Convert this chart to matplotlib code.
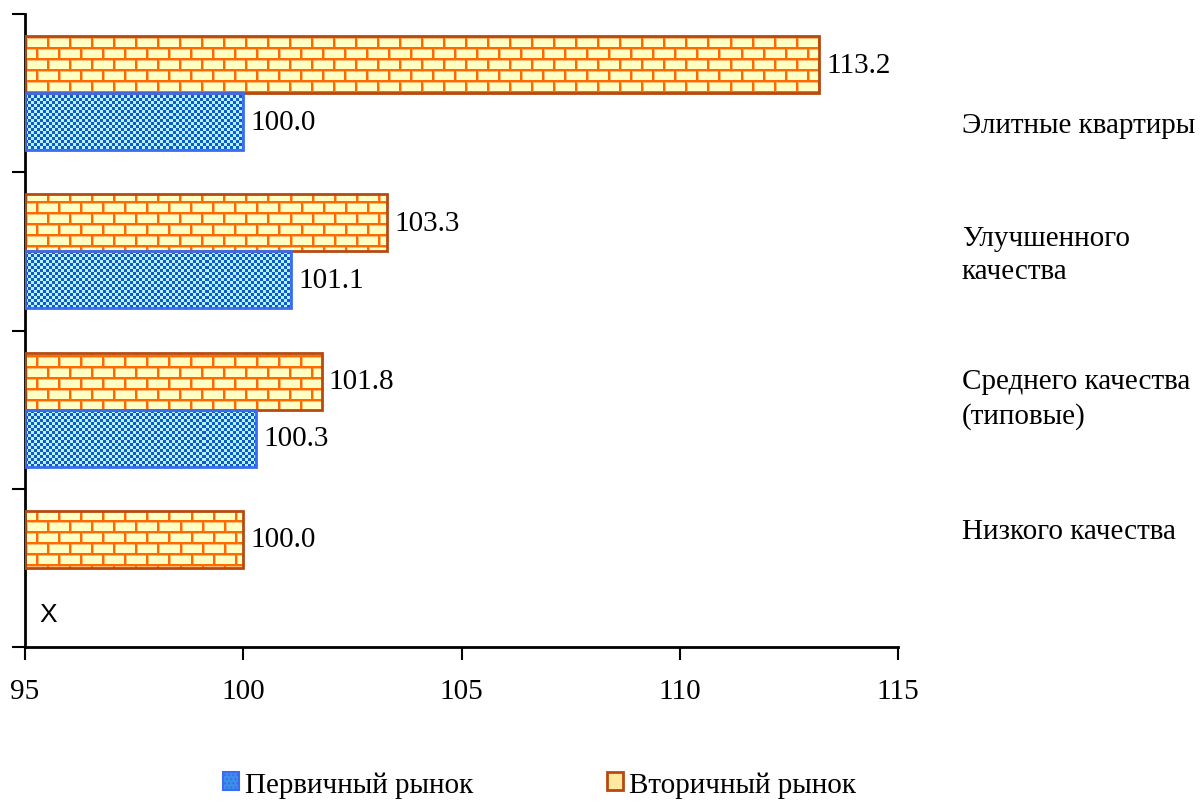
import numpy as np
import matplotlib
matplotlib.use('Agg')
import matplotlib.pyplot as plt
from matplotlib.patches import Patch

# data (bottom to top)
categories = ['Низкого качества', 'Среднего качества\n(типовые)',
              'Улучшенного\nкачества', 'Элитные квартиры']
primary = [np.nan, 100.3, 101.1, 100.0]      # Первичный рынок
secondary = [100.0, 101.8, 103.3, 113.2]     # Вторичный рынок
label_y = [0.23, 1.07, 1.98, 2.80]           # where the category captions sit
x_ticks = [95, 100, 105, 110, 115]

base = 95
W, H = 1202, 803
plt.rcParams['font.family'] = ['Liberation Serif', 'DejaVu Serif']
FS = 21

fig = plt.figure(figsize=(W / 100, H / 100), dpi=100)
ax_l, ax_b, ax_w, ax_h = 25, 155, 873, 633
ax = fig.add_axes([ax_l / W, ax_b / H, ax_w / W, ax_h / H])


# textures, one pixel of array per pixel of axes
def brick_texture(h, w):
    img = np.zeros((h, w, 3))
    img[:] = matplotlib.colors.to_rgb('#FFFFC4')
    mortar = matplotlib.colors.to_rgb('#FF6A00')
    light = matplotlib.colors.to_rgb('#FFB870')
    cols = np.arange(w)
    row_h, brick_w = 11, 22
    for r in range(h):
        k = r // row_h
        rr = r % row_h
        if rr in (0, 1):
            img[r, :] = mortar
            continue
        shift = 0 if k % 2 == 0 else brick_w // 2
        cc = (cols + shift) % brick_w
        if rr == 2:
            img[r, :] = light
        img[r, (cc == 0) | (cc == 1)] = mortar
        img[r, cc == 2] = light
    return img


def check_texture(h, w):
    img = np.zeros((h, w, 3))
    yy, xx = np.mgrid[0:h, 0:w]
    on = ((yy // 3) + (xx // 3)) % 2 == 0
    img[on] = matplotlib.colors.to_rgb('#0A5CC8')
    img[~on] = matplotlib.colors.to_rgb('#B8F0FF')
    return img


bricks = brick_texture(ax_h, ax_w)
checks = check_texture(ax_h, ax_w)

y = np.arange(len(categories))
off, bh = 0.18, 0.36
ylim = (-0.5, len(categories) - 0.5)
xlim = (x_ticks[0], x_ticks[-1])

sec_bars = ax.barh(y + off, np.array(secondary) - base, left=base, height=bh,
                   facecolor='none', edgecolor='#B84A10', linewidth=2, zorder=3)
prim_vals = np.array(primary)
prim_bars = ax.barh(y - off, np.nan_to_num(prim_vals - base, nan=0), left=base, height=bh,
                    facecolor='none', edgecolor='#3A6BF0', linewidth=2, zorder=3)

for bars, tex, vals in [(sec_bars, bricks, secondary), (prim_bars, checks, primary)]:
    for bar, v in zip(bars, vals):
        if np.isnan(v):
            bar.set_visible(False)
            continue
        im = ax.imshow(tex, extent=(xlim[0], xlim[1], ylim[0], ylim[1]),
                       aspect='auto', interpolation='nearest', zorder=2)
        im.set_clip_path(bar)
        ax.annotate('%.1f' % v, (v, bar.get_y() + bar.get_height() / 2),
                    xytext=(5, 0), textcoords='offset points', ha='left',
                    va='center', fontsize=FS)

# missing value marker
ax.text(base + 0.53, -0.29, 'X', family=['Liberation Sans'], fontsize=19,
        ha='center', va='center')

for lab, ly in zip(categories, label_y):
    ax.text(1.073, ly, lab, transform=ax.get_yaxis_transform(), fontsize=FS,
            ha='left', va='center', linespacing=1.38, clip_on=False)

ax.set_xlim(*xlim)
ax.set_ylim(*ylim)
ax.set_xticks(x_ticks)
ax.set_yticks(np.arange(-0.5, len(categories), 1.0))
ax.set_yticklabels([])
ax.tick_params(axis='x', direction='out', length=9, width=1.5, labelsize=FS, pad=13)
ax.tick_params(axis='y', direction='out', length=9.5, width=1.5)
for s in ['top', 'right']:
    ax.spines[s].set_visible(False)
for s in ['left', 'bottom']:
    ax.spines[s].set_linewidth(2)

handles = [Patch(facecolor='#3D8FE8', edgecolor='#3A6BF0', hatch='....', linewidth=1.5),
           Patch(facecolor='#FFE8A0', edgecolor='#B84A10', linewidth=2)]
fig.legend(handles, ['Первичный рынок', 'Вторичный рынок'], loc='center',
           bbox_to_anchor=(0.449, 0.022), ncol=2, frameon=False, fontsize=FS,
           handlelength=0.55, handleheight=0.55, handletextpad=0.2, columnspacing=4.6)

fig.savefig('out.png', dpi=100)
